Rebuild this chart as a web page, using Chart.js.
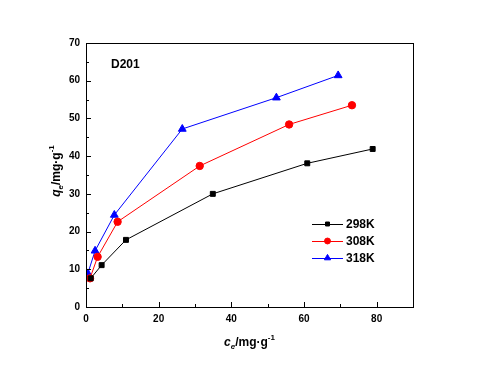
<!DOCTYPE html>
<html>
<head>
<meta charset="utf-8">
<script src="https://cdn.jsdelivr.net/npm/chart.js"></script>
<style>
html,body{margin:0;padding:0;background:#fff}
#wrap{position:relative;width:482px;height:371px}
</style>
</head>
<body>
<div id="wrap"><canvas id="canvas"></canvas></div>
<script>
// isotherm data (ce in mg/g, qe in mg/g)
const ce298 = [1.3, 4.3, 11.0, 34.9, 60.9, 78.9];
const qe298 = [7.6, 11.1, 17.8, 30.0, 38.1, 41.9];
const ce308 = [1.1, 3.2, 8.7, 31.3, 55.9, 73.2];
const qe308 = [7.6, 13.3, 22.6, 37.4, 48.4, 53.5];
const ce318 = [0.5, 2.5, 7.8, 26.5, 52.4, 69.4];
const qe318 = [8.9, 14.9, 24.4, 47.2, 55.5, 61.4];
const seriesNames = ['298K', '308K', '318K'];
const xTicks = [0, 20, 40, 60, 80];
const yTicks = [0, 10, 20, 30, 40, 50, 60, 70];

const FONT = "Arial, 'Liberation Sans', sans-serif";

function pts(xs, ys) { return xs.map((x, i) => ({x: x, y: ys[i]})); }

const styles = [
    {color: '#000000', point: 'rect', radius: 3.5},
    {color: '#ff0000', point: 'circle', radius: 3.7},
    {color: '#0000ff', point: 'triangle', radius: 4.5}
];
const raw = [[ce298, qe298], [ce308, qe308], [ce318, qe318]];

let datasets = raw.map(([xs, ys], i) => ({
    label: seriesNames[i],
    data: pts(xs, ys),
    showLine: true,
    borderColor: styles[i].color,
    backgroundColor: styles[i].color,
    borderWidth: 1,
    pointStyle: styles[i].point,
    pointRadius: styles[i].radius,
    pointBorderWidth: 1,
    tension: 0
}));

// frame, inward ticks, titles, legend and the D201 tag
const decor = {
    id: 'decor',
    afterDraw(chart) {
        const ctx = chart.ctx;
        const a = chart.chartArea;
        const xs = chart.scales.x, ys = chart.scales.y;
        ctx.save();
        ctx.strokeStyle = '#000';
        ctx.lineWidth = 1;
        ctx.strokeRect(Math.round(a.left) + 0.5, Math.round(a.top) + 0.5,
            Math.round(a.right - a.left), Math.round(a.bottom - a.top));
        ctx.beginPath();
        xs.ticks.forEach(t => {
            let px = Math.round(xs.getPixelForValue(t.value)) + 0.5;
            let len = t.value % 20 === 0 ? 5 : 3;
            ctx.moveTo(px, a.bottom);
            ctx.lineTo(px, a.bottom - len);
        });
        ys.ticks.forEach(t => {
            let py = Math.round(ys.getPixelForValue(t.value)) + 0.5;
            let len = t.value % 10 === 0 ? 5 : 3;
            ctx.moveTo(a.left, py);
            ctx.lineTo(a.left + len, py);
        });
        ctx.stroke();

        ctx.fillStyle = '#000';
        ctx.textBaseline = 'alphabetic';
        // x title c_e/mg·g^-1
        drawTitle(ctx, (a.left + a.right) / 2, 346, 0);
        // y title q_e/mg·g^-1
        ctx.save();
        ctx.translate(60, (a.top + a.bottom) / 2 - 4);
        ctx.rotate(-Math.PI / 2);
        drawTitle(ctx, 0, 0, 1);
        ctx.restore();

        // tag
        ctx.font = 'bold 12px ' + FONT;
        ctx.textAlign = 'left';
        ctx.fillText('D201', 111, 68);

        // legend
        const lx = 312, lw = 31, ly = [224, 241, 258];
        chart.data.datasets.forEach((ds, i) => {
            ctx.strokeStyle = ds.borderColor;
            ctx.fillStyle = ds.backgroundColor;
            ctx.lineWidth = 1;
            ctx.beginPath();
            ctx.moveTo(lx, ly[i] + 0.5);
            ctx.lineTo(lx + lw, ly[i] + 0.5);
            ctx.stroke();
            Chart.helpers.drawPoint(ctx, {pointStyle: ds.pointStyle, radius: ds.pointRadius * 0.8, borderWidth: 1},
                lx + lw / 2, ly[i]);
            ctx.fillStyle = '#000';
            ctx.font = 'bold 12px ' + FONT;
            ctx.textAlign = 'left';
            ctx.textBaseline = 'middle';
            ctx.fillText(ds.label, lx + lw + 3, ly[i] + 1);
        });
        ctx.restore();
    }
};

function drawTitle(ctx, cx, cy, kind) {
    const main = kind === 0 ? 'c' : 'q';
    const big = 'bold italic 12px ' + FONT;
    const rest = 'bold 12px ' + FONT;
    const small = 'bold 8px ' + FONT;
    const parts = [
        {t: main, f: big, dy: 0},
        {t: 'e', f: 'bold italic 8px ' + FONT, dy: 3},
        {t: '/mg\u00b7g', f: rest, dy: 0},
        {t: '-1', f: small, dy: -6}
    ];
    let w = 0;
    parts.forEach(p => { ctx.font = p.f; p.w = ctx.measureText(p.t).width; w += p.w; });
    let x = cx - w / 2;
    ctx.textAlign = 'left';
    ctx.textBaseline = 'alphabetic';
    parts.forEach(p => {
        ctx.font = p.f;
        ctx.fillText(p.t, x, cy + p.dy);
        x += p.w;
    });
}

const chart = new Chart(document.getElementById('canvas'), {
    type: 'scatter',
    data: {datasets: datasets},
    options: {
        responsive: true,
        maintainAspectRatio: false,
        animation: false,
        layout: {padding: {left: 0, right: 69, top: 43, bottom: 0}},
        plugins: {legend: {display: false}, tooltip: {enabled: false}},
        scales: {
            x: {
                type: 'linear', min: 0, max: 90,
                grid: {display: false, drawTicks: false},
                border: {display: false},
                afterFit(s) { s.height = 64; },
                ticks: {
                    stepSize: 10, autoSkip: false, maxRotation: 0, padding: 6,
                    color: '#000', font: {family: FONT, size: 10, weight: 'bold'},
                    callback: v => xTicks.includes(v) ? String(v) : ''
                }
            },
            y: {
                type: 'linear', min: 0, max: 70,
                grid: {display: false, drawTicks: false},
                border: {display: false},
                afterFit(s) { s.width = 86; },
                ticks: {
                    stepSize: 5, autoSkip: false, padding: 6,
                    color: '#000', font: {family: FONT, size: 10, weight: 'bold'},
                    callback: v => yTicks.includes(v) ? String(v) : ''
                }
            }
        }
    },
    plugins: [decor]
});
</script>
</body>
</html>
